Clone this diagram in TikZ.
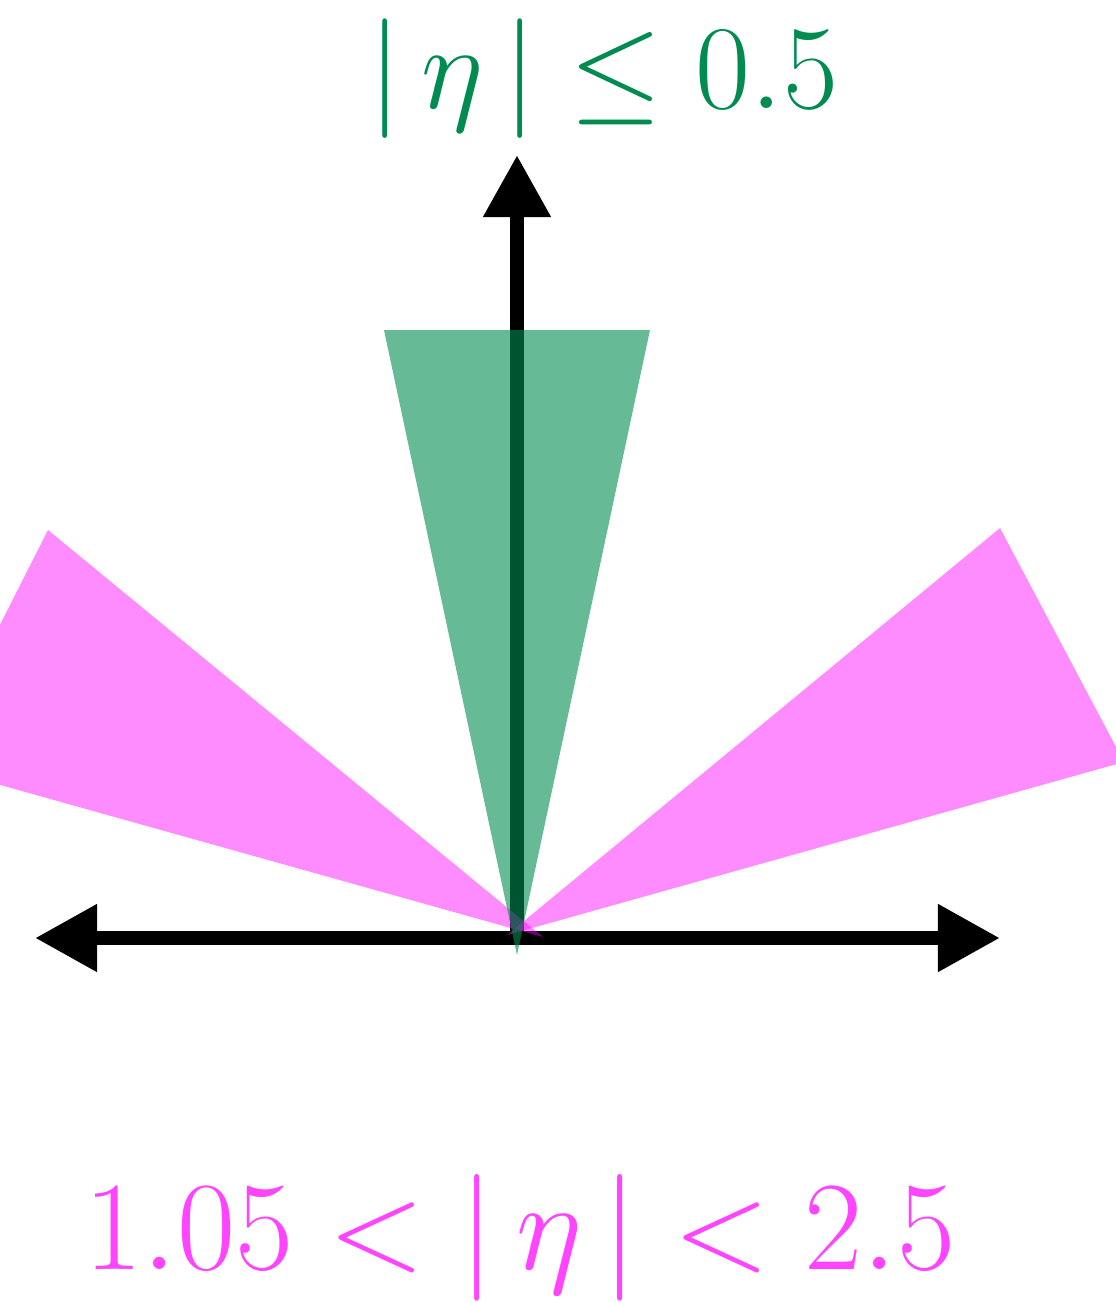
\RequirePackage{fix-cm}
\documentclass[tikz,border=0pt]{standalone}
\usepackage{amsmath,amssymb}
\usetikzlibrary{arrows.meta}
\definecolor{cgreen}{HTML}{008C50}
\definecolor{cpink}{HTML}{FF00FF}
\definecolor{clab}{HTML}{FF44FF}

\begin{document}
\begin{tikzpicture}[x=0.01cm,y=-0.01cm,
      ax/.style={line width=4pt,black,
                 {Triangle[length=0.62cm,width=0.64cm]}-{Triangle[length=0.62cm,width=0.64cm]}},
      up/.style={line width=4pt,black,-{Triangle[length=0.62cm,width=0.64cm]}},
      fwd/.style={fill=cpink,fill opacity=0.45},
      cen/.style={fill=cgreen,fill opacity=0.6},
      lab/.style={inner sep=0pt}]
    \useasboundingbox (0,0) rectangle (1116,1302);
    \coordinate (o) at (517,938);
    \coordinate (xl) at (35,938); \coordinate (xr) at (1000,938);
    \coordinate (yt) at (517,155);
    \draw[ax] (xl) -- (xr);
    \draw[up] (o) -- (yt);
    % forward wedges
    \begin{scope}
      \clip (0,0) rectangle (1116,1302);
      \fill[fwd] (543,937) -- (48,530) -- (-71,765) -- cycle;
      \fill[fwd] (507,935) -- (1000,528) -- (1124,762) -- cycle;
    \end{scope}
    % central wedge
    \fill[cen] (384,330) -- (650,330) -- (517,955) -- cycle;
    \node[lab,cgreen,font=\fontsize{34}{40}\selectfont] (ctr) at (603,79)
      {$|\,\eta\,| \leq 0.5$};
    \node[lab,clab,font=\fontsize{36}{42}\selectfont] (fw) at (520,1238)
      {$1.05 < |\,\eta\,| < 2.5$};
  \end{tikzpicture}
\end{document}
